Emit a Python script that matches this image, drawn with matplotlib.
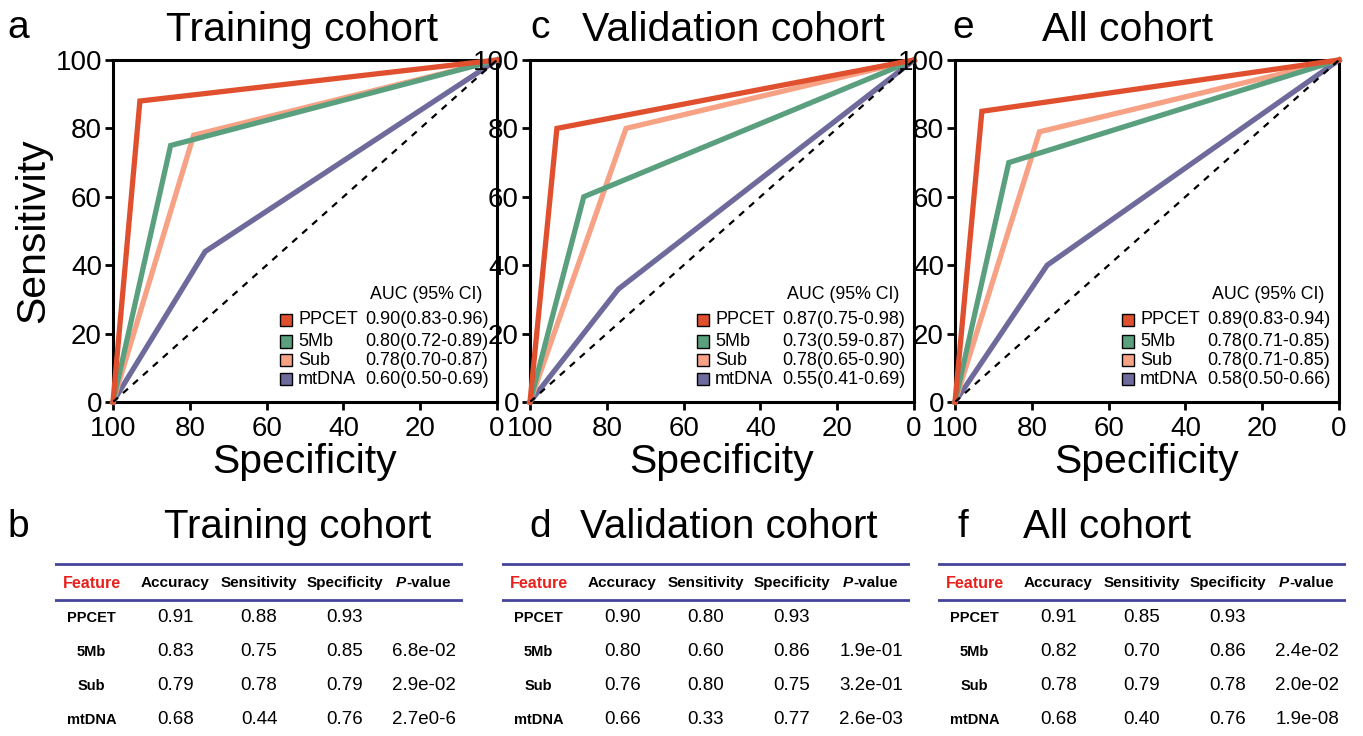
import matplotlib
matplotlib.use("Agg")
import matplotlib.pyplot as plt
from matplotlib.patches import Rectangle
from matplotlib.lines import Line2D

plt.rcParams['font.family'] = ['Liberation Sans', 'DejaVu Sans']

features = ["PPCET", "5Mb", "Sub", "mtDNA"]
colors = ["#e0502f", "#5aa07f", "#f7a285", "#6e6a9c"]
cohorts = ["Training cohort", "Validation cohort", "All cohort"]
top_letters = ["a", "c", "e"]
bottom_letters = ["b", "d", "f"]

# table values per cohort (rows: PPCET, 5Mb, Sub, mtDNA)
accuracy = [["0.91", "0.83", "0.79", "0.68"],
            ["0.90", "0.80", "0.76", "0.66"],
            ["0.91", "0.82", "0.78", "0.68"]]
sensitivity = [["0.88", "0.75", "0.78", "0.44"],
               ["0.80", "0.60", "0.80", "0.33"],
               ["0.85", "0.70", "0.79", "0.40"]]
specificity = [["0.93", "0.85", "0.79", "0.76"],
               ["0.93", "0.86", "0.75", "0.77"],
               ["0.93", "0.86", "0.78", "0.76"]]
pvalues = [["", "6.8e-02", "2.9e-02", "2.7e0-6"],
           ["", "1.9e-01", "3.2e-01", "2.6e-03"],
           ["", "2.4e-02", "2.0e-02", "1.9e-08"]]
auc_text = [["0.90(0.83-0.96)", "0.80(0.72-0.89)", "0.78(0.70-0.87)", "0.60(0.50-0.69)"],
            ["0.87(0.75-0.98)", "0.73(0.59-0.87)", "0.78(0.65-0.90)", "0.55(0.41-0.69)"],
            ["0.89(0.83-0.94)", "0.78(0.71-0.85)", "0.78(0.71-0.85)", "0.58(0.50-0.66)"]]

W, H = 1363, 736
fig = plt.figure(figsize=(W / 100, H / 100), dpi=100)

ax_left = [113, 530, 955]
ax_w = 384
ax_top, ax_bot = 60, 402
title_x = [302, 733, 1127]
btitle_x = [298, 729, 1107]
letter_x = [18, 540, 963]
table_left = [55, 502, 938]
table_w = 408

for k in range(3):
    ax = fig.add_axes([ax_left[k] / W, 1 - ax_bot / H, ax_w / W, (ax_bot - ax_top) / H])
    ax.plot([100, 0], [0, 100], ls=(0, (3, 3)), color="black", lw=1.6, zorder=5)
    order = [3, 1, 2, 0]
    for i in order:
        spec = float(specificity[k][i]) * 100
        sens = float(sensitivity[k][i]) * 100
        ax.plot([100, spec, 0], [0, sens, 100], color=colors[i], lw=3.8,
                solid_joinstyle="miter", zorder=3 + (0.1 * (4 - i)), clip_on=False)
    ax.set_xlim(100, 0)
    ax.set_ylim(0, 100)
    ax.set_xticks([100, 80, 60, 40, 20, 0])
    ax.set_yticks([0, 20, 40, 60, 80, 100])
    ax.tick_params(direction="out", length=6, width=2, labelsize=20, pad=2)
    ax.tick_params(axis="x", pad=4)
    for s in ax.spines.values():
        s.set_linewidth(2.2)
    ax.set_xlabel("Specificity", fontsize=29.5, labelpad=1)
    if k == 0:
        ax.set_ylabel("Sensitivity", fontsize=29.5, labelpad=2)

    # legend
    ax.text(0.962, 0.313, "AUC (95% CI)", transform=ax.transAxes, ha="right",
            va="center", fontsize=12.8)
    ys = [0.24, 0.177, 0.122, 0.067]
    for i in range(4):
        ax.add_patch(Rectangle((0.435, ys[i] - 0.018), 0.032, 0.036, transform=ax.transAxes,
                               facecolor=colors[i], edgecolor="black", lw=1.0, zorder=6))
        ax.text(0.482, ys[i], features[i], transform=ax.transAxes, ha="left",
                va="center", fontsize=13)
        ax.text(0.658, ys[i], auc_text[k][i], transform=ax.transAxes, ha="left",
                va="center", fontsize=13)

    fig.text(title_x[k] / W, 1 - 30 / H, cohorts[k], ha="center", va="center", fontsize=29.5)
    fig.text(letter_x[k] / W, 1 - 28 / H, top_letters[k], ha="center", va="center", fontsize=28)
    fig.text(btitle_x[k] / W, 1 - 527 / H, cohorts[k], ha="center", va="center", fontsize=29)
    fig.text(letter_x[k] / W, 1 - 527 / H, bottom_letters[k], ha="center", va="center", fontsize=28)

    # table
    tx = fig.add_axes([table_left[k] / W, 0, table_w / W, 1 - 555 / H])
    tx.set_xlim(0, 1)
    tx.set_ylim(736, 555)
    tx.axis("off")
    line_c = "#44449a"
    tx.add_line(Line2D([0, 1], [564, 564], color=line_c, lw=2))
    tx.add_line(Line2D([0, 1], [600, 600], color=line_c, lw=2))
    cols = [0.09, 0.295, 0.50, 0.71]
    hy = 583
    tx.text(cols[0], hy, "Feature", color="#e8201c", fontweight="bold", ha="center", va="center", fontsize=11.5)
    tx.text(cols[1], hy, "Accuracy", fontweight="bold", ha="center", va="center", fontsize=11)
    tx.text(cols[2], hy, "Sensitivity", fontweight="bold", ha="center", va="center", fontsize=11)
    tx.text(cols[3], hy, "Specificity", fontweight="bold", ha="center", va="center", fontsize=11)
    tx.text(0.86, hy, "P", fontweight="bold", style="italic", ha="right", va="center", fontsize=11)
    tx.text(0.86, hy, "-value", fontweight="bold", ha="left", va="center", fontsize=11)
    row_y = [618, 652, 686, 720]
    for i in range(4):
        tx.text(cols[0], row_y[i], features[i], fontweight="bold", ha="center", va="center", fontsize=10.5)
        tx.text(cols[1], row_y[i], accuracy[k][i], ha="center", va="center", fontsize=13.5)
        tx.text(cols[2], row_y[i], sensitivity[k][i], ha="center", va="center", fontsize=13.5)
        tx.text(cols[3], row_y[i], specificity[k][i], ha="center", va="center", fontsize=13.5)
        tx.text(0.905, row_y[i], pvalues[k][i], ha="center", va="center", fontsize=13.5)

fig.savefig("out.png", dpi=100)
